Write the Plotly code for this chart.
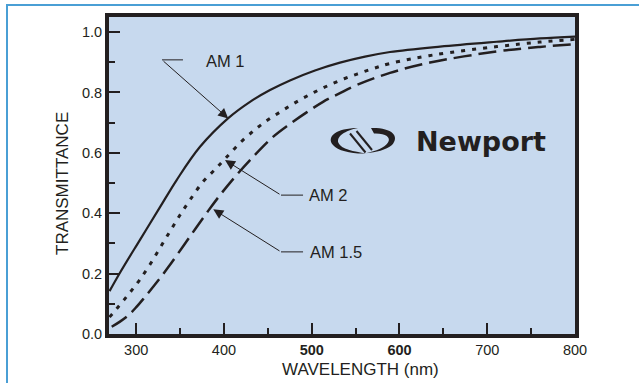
import plotly.graph_objects as go

# ---------------- data ----------------
wl_am1 = [269.6, 281.5, 304.3, 327.1, 346.1, 372.7, 404.9, 429.7, 452.5, 475.2, 503.7, 532.2, 560.7, 589.2,
          646.2, 710.8, 760.1, 800]
t_am1 = [0.142, 0.203, 0.312, 0.420, 0.510, 0.620, 0.715, 0.769, 0.808, 0.840, 0.873, 0.899, 0.919, 0.934,
         0.952, 0.968, 0.979, 0.985]

wl_am2 = [269.6, 277.0, 286.1, 295.2, 304.3, 315.7, 327.1, 338.5, 349.9, 361.3, 376.1, 389.8, 401.2, 418.3,
          435.4, 449.0, 463.9, 478.7, 495.8, 512.9, 532.2, 551.6, 569.8, 589.2, 638.2, 711.1, 760.1, 800]
t_am2 = [0.056, 0.081, 0.113, 0.146, 0.181, 0.230, 0.285, 0.340, 0.394, 0.444, 0.504, 0.545, 0.580, 0.633,
         0.677, 0.707, 0.735, 0.762, 0.790, 0.815, 0.840, 0.861, 0.879, 0.896, 0.924, 0.952, 0.967, 0.976]

wl_am15 = [272.1, 281.5, 290.7, 299.8, 310.0, 321.4, 336.2, 353.3, 368.1, 381.8, 395.5, 409.2, 429.7, 455.9,
           475.2, 494.6, 512.9, 532.2, 551.6, 589.2, 634.8, 711.1, 760.1, 800]
t_am15 = [0.024, 0.041, 0.061, 0.088, 0.123, 0.164, 0.220, 0.290, 0.351, 0.407, 0.460, 0.509, 0.576, 0.653,
          0.696, 0.735, 0.769, 0.798, 0.825, 0.865, 0.899, 0.936, 0.951, 0.960]

x_ticks = [300, 400, 500, 600, 700, 800]
x_ticktext = ["300", "400", "<b>500</b>", "<b>600</b>", "700", "800"]
y_ticks = [0.0, 0.2, 0.4, 0.6, 0.8, 1.0]
y_ticktext = ["0.0", "0.2", "0.4", "0.6", "0.8", "1.0"]

# labels: (text, text x, text y, elbow x, elbow y, leader end x, arrow tip x, arrow tip y)
labels = [
    ("AM 1", 377.3, 0.903, 329.4, 0.908, 353.3, 404.9, 0.714),
    ("AM 2", 495.0, 0.459, 465.0, 0.460, 490.1, 401.2, 0.576),
    ("AM 1.5", 496.1, 0.272, 465.0, 0.272, 490.1, 387.8, 0.413),
]

# ---------------- layout geometry ----------------
W, H = 639, 383
L, R, T, B = 109, 575, 17, 334   # plot area in pixels
INK = "#231f20"
FONT = "Liberation Sans, Arial, sans-serif"


def px(x):
    return (x - L) / (R - L)


def py(y):
    return (B - y) / (B - T)


def P(x, y):
    return f"{px(x):.5f},{py(y):.5f}"


fig = go.Figure()
fig.add_trace(go.Scatter(x=wl_am1, y=t_am1, mode="lines", line=dict(color=INK, width=2.2, shape="spline", smoothing=1.0),
                         hoverinfo="skip", showlegend=False))
fig.add_trace(go.Scatter(x=wl_am2, y=t_am2, mode="lines", line=dict(color=INK, width=3, dash="4px,7px", shape="spline", smoothing=1.0),
                         hoverinfo="skip", showlegend=False))
fig.add_trace(go.Scatter(x=wl_am15, y=t_am15, mode="lines", line=dict(color=INK, width=2.5, dash="18px,7px", shape="spline", smoothing=1.0),
                         hoverinfo="skip", showlegend=False))

annotations = []
shapes = []
for text, tx, ty, ex, ey, hx, ax_, ay_ in labels:
    annotations.append(dict(x=tx, y=ty, xref="x", yref="y", text=text, showarrow=False, xanchor="left", yanchor="middle",
                            font=dict(family=FONT, size=16.5, color=INK)))
    shapes.append(dict(type="line", xref="x", yref="y", x0=ex, y0=ey, x1=hx, y1=ey, line=dict(color=INK, width=1)))
    annotations.append(dict(x=ax_, y=ay_, xref="x", yref="y", ax=ex, ay=ey, axref="x", ayref="y", text="",
                            showarrow=True, arrowhead=2, arrowsize=2, arrowwidth=1, arrowcolor=INK, standoff=0))

# axis titles
annotations.append(dict(x=px(360.8), y=py(369.7), xref="paper", yref="paper", text="WAVELENGTH (nm)", showarrow=False,
                        xanchor="center", yanchor="middle", font=dict(family=FONT, size=17, color=INK)))
annotations.append(dict(x=px(62.5), y=py(183.5), xref="paper", yref="paper", text="TRANSMITTANCE", showarrow=False,
                        textangle=-90, xanchor="center", yanchor="middle", font=dict(family=FONT, size=17, color=INK)))

# Newport logo text
annotations.append(dict(x=px(481), y=py(141.5), xref="paper", yref="paper", text="<b>Newport</b>", showarrow=False,
                        xanchor="center", yanchor="middle", font=dict(family="DejaVu Sans, Verdana, sans-serif", size=27, color=INK)))

# Newport logo mark (decoration)
left_c = ("M " + P(358, 128) + " C " + P(336, 128) + " " + P(326, 137) + " " + P(333, 145) +
          " C " + P(338, 151) + " " + P(352, 154) + " " + P(366, 153.5) +
          " C " + P(354, 151.5) + " " + P(341, 149) + " " + P(338.5, 143) +
          " C " + P(336, 136.5) + " " + P(345, 130.5) + " " + P(358, 128) + " Z")
right_c = ("M " + P(371, 128) + " C " + P(392, 127.5) + " " + P(400, 136) + " " + P(392, 145) +
           " C " + P(386, 150) + " " + P(376, 152.5) + " " + P(366, 153.2) +
           " C " + P(376, 151) + " " + P(385, 147.5) + " " + P(388, 142.5) +
           " C " + P(391.5, 137) + " " + P(385, 133) + " " + P(374, 133.5) + " Z")
for pth in (left_c, right_c):
    shapes.append(dict(type="path", xref="paper", yref="paper", path=pth, fillcolor=INK, line=dict(width=0)))
for (x0, y0, x1, y1) in ((350, 133.5, 365.5, 152.5), (356.5, 131, 372, 150)):
    shapes.append(dict(type="line", xref="paper", yref="paper", x0=px(x0), y0=py(y0), x1=px(x1), y1=py(y1),
                       line=dict(color=INK, width=2)))

# outer light-blue frame
shapes.append(dict(type="rect", xref="paper", yref="paper", x0=px(7), y0=py(430), x1=px(720), y1=py(5),
                   line=dict(color="#4a9fd5", width=2), fillcolor="rgba(0,0,0,0)", layer="below"))

axis_common = dict(showgrid=False, zeroline=False, showline=True, linecolor=INK, linewidth=4, mirror=True,
                   ticks="inside", ticklen=11, tickwidth=1.5, tickcolor=INK,
                   tickfont=dict(family=FONT, size=14.5, color=INK))

fig.update_layout(
    width=W, height=H,
    margin=dict(l=L, r=W - R, t=T, b=H - B),
    paper_bgcolor="white", plot_bgcolor="#c7d9ee",
    xaxis=dict(range=[269, 800], tickvals=x_ticks, ticktext=x_ticktext,
               minor=dict(dtick=50, tick0=0, ticks="inside", ticklen=6, tickwidth=1.5, tickcolor=INK), **axis_common),
    yaxis=dict(range=[0, 1.05], tickvals=y_ticks, ticktext=y_ticktext,
               minor=dict(dtick=0.1, tick0=0, ticks="inside", ticklen=6, tickwidth=1.5, tickcolor=INK), **axis_common),
    annotations=annotations, shapes=shapes, showlegend=False,
)

fig.write_html("out.html")
